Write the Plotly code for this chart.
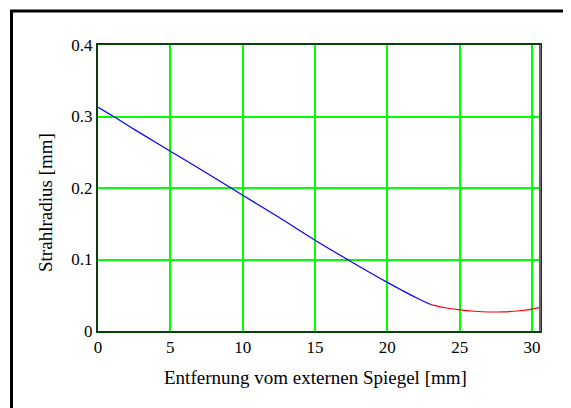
import plotly.graph_objects as go

# Blue segment (converging beam)
x_blue = [0, 1, 2.5, 5, 7.5, 10, 12.5, 15, 17.5, 20, 21, 22, 23]
y_blue = [0.313, 0.301, 0.282, 0.2515, 0.221, 0.190, 0.159, 0.127, 0.097, 0.068, 0.057, 0.0465, 0.037]

# Red segment (near focus)
x_red = [23, 24, 25, 26, 27, 28, 29, 30, 30.55]
y_red = [0.037, 0.0325, 0.0295, 0.0276, 0.0266, 0.0268, 0.0280, 0.0305, 0.033]

x_ticks = [0, 5, 10, 15, 20, 25, 30]
y_ticks = [0, 0.1, 0.2, 0.3, 0.4]
y_tick_text = ["0", "0.1", "0.2", "0.3", "0.4"]

x_title = "Entfernung vom externen Spiegel [mm]"
y_title = "Strahlradius [mm]"

FONT = "Liberation Serif, Times New Roman, serif"

fig = go.Figure()
fig.add_trace(go.Scatter(x=x_blue, y=y_blue, mode="lines",
                         line=dict(color="#0000ff", width=1.2, shape="spline"),
                         showlegend=False, hoverinfo="skip"))
fig.add_trace(go.Scatter(x=x_red, y=y_red, mode="lines",
                         line=dict(color="#ff0000", width=1.2, shape="spline"),
                         showlegend=False, hoverinfo="skip"))

fig.update_layout(
    width=563, height=400,
    margin=dict(l=90, r=31, t=37, b=77),
    paper_bgcolor="white", plot_bgcolor="white",
    font=dict(family=FONT, size=17, color="black"),
    xaxis=dict(range=[0, 30.55], tickvals=x_ticks, showgrid=True,
               gridcolor="#00ff00", gridwidth=1.6, zeroline=False,
               showline=True, linecolor="#0a400a", linewidth=2, mirror=True,
               ticks="", tickfont=dict(family=FONT, size=17)),
    yaxis=dict(range=[0, 0.4], tickvals=y_ticks, ticktext=y_tick_text,
               showgrid=True, gridcolor="#00ff00", gridwidth=1.6, zeroline=False,
               showline=True, linecolor="#0a400a", linewidth=2, mirror=True,
               ticks="", tickfont=dict(family=FONT, size=17)),
    shapes=[
        dict(type="line", xref="paper", yref="paper", x0=1, x1=1, y0=0, y1=1,
             line=dict(color="#666666", width=2)),
        dict(type="rect", xref="paper", yref="paper",
             x0=-0.1957, x1=2, y0=-1, y1=1.119,
             line=dict(color="black", width=3), fillcolor="rgba(0,0,0,0)"),
    ],
    annotations=[
        dict(text=x_title, xref="paper", yref="paper", x=0.491, y=-0.161,
             xanchor="center", yanchor="middle", showarrow=False,
             font=dict(family=FONT, size=19)),
        dict(text=y_title, xref="paper", yref="paper", x=-0.12, y=0.451,
             xanchor="center", yanchor="middle", showarrow=False, textangle=-90,
             font=dict(family=FONT, size=19)),
    ],
)

fig.write_html("out.html")
